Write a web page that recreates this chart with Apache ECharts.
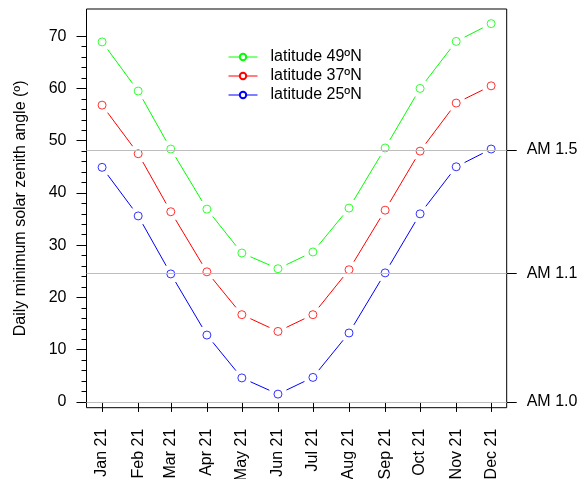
<!DOCTYPE html>
<html>
<head>
<meta charset="utf-8">
<script src="https://cdn.jsdelivr.net/npm/echarts@6/dist/echarts.min.js"></script>
<style>
  html, body { margin: 0; padding: 0; background: #fff; }
  #main { width: 585px; height: 479px; }
</style>
</head>
<body>
<div id="main"></div>
<script>
// tick labels on the x axis (21st of each month) and their day of year
var months = ['Jan 21', 'Feb 21', 'Mar 21', 'Apr 21', 'May 21', 'Jun 21',
              'Jul 21', 'Aug 21', 'Sep 21', 'Oct 21', 'Nov 21', 'Dec 21'];
var days = [21, 52, 80, 111, 141, 172, 202, 233, 264, 294, 325, 355];

// daily minimum solar zenith angle, degrees
var lat49 = [68.9, 59.5, 48.4, 36.9, 28.5, 25.5, 28.7, 37.1, 48.6, 60.0, 69.0, 72.4];
var lat37 = [56.8, 47.5, 36.4, 24.9, 16.7, 13.5, 16.7, 25.3, 36.7, 48.0, 57.2, 60.5];
var lat25 = [44.9, 35.6, 24.5, 12.8, 4.6, 1.5, 4.7, 13.2, 24.7, 36.0, 45.0, 48.4];

var seriesNames = ['latitude 49ºN', 'latitude 37ºN', 'latitude 25ºN'];
var seriesColors = ['#00ff00', '#ff0000', '#0000ff'];

// air mass reference lines (right axis)
var amLevels = [0, 24.6, 48.2];
var amLabels = ['AM 1.0', 'AM 1.1', 'AM 1.5'];

var yLabels = [0, 10, 20, 30, 40, 50, 60, 70];
var yMinor = [];
for (var v = 0; v <= 70; v += 2) yMinor.push(v);

var font = 'Liberation Sans, Arial, Helvetica, sans-serif';
var GAP = 9.4; // px left blank round each point, like R type="b"

function pairs(vals) {
    var out = [];
    for (var i = 0; i < days.length; i++) out.push([days[i], vals[i]]);
    return out;
}

function segments(vals) {
    var out = [];
    for (var i = 0; i < days.length - 1; i++) {
        out.push([days[i], vals[i], days[i + 1], vals[i + 1]]);
    }
    return out;
}

function segmentRenderer(color) {
    return function (params, api) {
        var p0 = api.coord([api.value(0), api.value(1)]);
        var p1 = api.coord([api.value(2), api.value(3)]);
        var dx = p1[0] - p0[0], dy = p1[1] - p0[1];
        var len = Math.sqrt(dx * dx + dy * dy);
        if (len <= 2 * GAP) return null;
        var ux = dx / len, uy = dy / len;
        return {
            type: 'line',
            shape: {
                x1: p0[0] + ux * GAP, y1: p0[1] + uy * GAP,
                x2: p1[0] - ux * GAP, y2: p1[1] - uy * GAP
            },
            style: { stroke: color, lineWidth: 1 }
        };
    };
}

var allData = [lat49, lat37, lat25];
var series = [];

// grey reference lines
series.push({
    type: 'line',
    data: [],
    z: 1,
    markLine: {
        silent: true,
        symbol: ['none', 'none'],
        label: { show: false },
        lineStyle: { color: '#bebebe', width: 1, type: 'solid' },
        data: amLevels.map(function (a) { return { yAxis: a }; })
    }
});

for (var i = 0; i < 3; i++) {
    // empty line series, only for the legend entry
    series.push({
        name: seriesNames[i],
        type: 'line',
        data: [],
        symbol: 'emptyCircle',
        symbolSize: 7,
        color: seriesColors[i],
        lineStyle: { width: 1, color: seriesColors[i] }
    });
    // segments with gaps
    series.push({
        type: 'custom',
        data: segments(allData[i]),
        encode: { x: [0, 2], y: [1, 3] },
        renderItem: segmentRenderer(seriesColors[i]),
        silent: true,
        z: 2
    });
    // hollow points
    series.push({
        type: 'scatter',
        data: pairs(allData[i]),
        symbol: 'circle',
        symbolSize: 8,
        itemStyle: { color: 'rgba(0,0,0,0)', borderColor: seriesColors[i], borderWidth: 1 },
        silent: true,
        z: 3
    });
}

var yMin = -1.1, yMax = 75.2;

var option = {
    animation: false,
    backgroundColor: '#fff',
    textStyle: { fontFamily: font },
    grid: {
        left: 86.5, right: 78.3, top: 9, bottom: 71.3,
        outerBoundsMode: 'none',
        containLabel: false,
        show: true, borderColor: '#000', borderWidth: 1,
        backgroundColor: 'transparent'
    },
    legend: {
        data: seriesNames,
        orient: 'vertical',
        left: 228,
        top: 49,
        padding: 0,
        itemWidth: 29,
        itemHeight: 8,
        itemGap: 3,
        selectedMode: false,
        itemStyle: { borderWidth: 1 },
        lineStyle: { width: 1 },
        textStyle: { fontSize: 16, color: '#000', fontFamily: font, padding: [0, 0, 0, 8], lineHeight: 16 }
    },
    xAxis: {
        type: 'value',
        min: 21 - 13.36,
        max: 355 + 13.36,
        splitLine: { show: false },
        axisLine: { show: false },
        axisTick: { show: true, length: 10, customValues: days, lineStyle: { color: '#000' } },
        axisLabel: {
            customValues: days,
            rotate: 90,
            margin: 21,
            fontSize: 16,
            color: '#000',
            fontFamily: font,
            formatter: function (val) {
                var k = days.indexOf(Math.round(val));
                return k >= 0 ? months[k] : '';
            }
        }
    },
    yAxis: [{
        type: 'value',
        position: 'left',
        min: yMin, max: yMax,
        name: 'Daily minimum solar zenith angle (º)',
        nameLocation: 'middle',
        nameGap: 58,
        nameTextStyle: { fontSize: 16, color: '#000', fontFamily: font },
        splitLine: { show: false },
        axisLine: { show: false },
        axisTick: { show: true, length: 10, customValues: yLabels, lineStyle: { color: '#000' } },
        axisLabel: { customValues: yLabels, margin: 20, fontSize: 16, color: '#000', fontFamily: font }
    }, {
        type: 'value',
        position: 'right',
        min: yMin, max: yMax,
        splitLine: { show: false },
        axisLine: { show: false },
        axisTick: { show: true, length: 10, customValues: amLevels, lineStyle: { color: '#000' } },
        axisLabel: {
            customValues: amLevels, margin: 20, fontSize: 16, color: '#000', fontFamily: font,
            formatter: function (val) {
                for (var k = 0; k < amLevels.length; k++) {
                    if (Math.abs(amLevels[k] - val) < 0.01) return amLabels[k];
                }
                return '';
            }
        }
    }, {
        type: 'value',
        position: 'left',
        min: yMin, max: yMax,
        splitLine: { show: false },
        axisLine: { show: false },
        axisTick: { show: true, length: 5, customValues: yMinor, lineStyle: { color: '#000' } },
        axisLabel: { show: false }
    }],
    series: series
};

var chart = echarts.init(document.getElementById('main'));
chart.setOption(option);
</script>
</body>
</html>
